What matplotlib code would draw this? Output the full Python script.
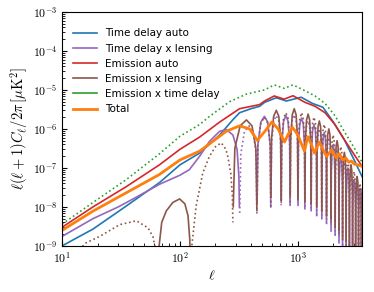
import matplotlib
matplotlib.use("Agg")
import matplotlib.pyplot as plt
import numpy as np
from matplotlib.ticker import FuncFormatter, LogLocator, NullFormatter

plt.rcParams['mathtext.fontset'] = 'cm'

# smooth spectra (ell, l(l+1)C_l/2pi in muK^2)
td_ell = [10, 18.3, 35, 67, 100, 147, 217, 280, 320, 400, 473, 522, 655, 800, 1066, 1330, 1630, 2000, 2500, 3000, 3500]
td_cl = [1.0e-9, 2.7e-9, 1.05e-8, 4.2e-8, 1.2e-7, 2.4e-7, 7e-7, 1.7e-6, 2.6e-6, 3.3e-6, 3.8e-6, 4.8e-6, 6.3e-6,
         5.2e-6, 6.5e-6, 4.5e-6, 3.6e-6, 1.5e-6, 5e-7, 1.6e-7, 6e-8]

em_ell = [10, 18.3, 35, 67, 100, 147, 217, 320, 473, 522, 630, 764, 910, 1150, 1400, 1700, 2060, 2510, 3000, 3500]
em_cl = [3.0e-9, 1.0e-8, 3.3e-8, 1.2e-7, 3.0e-7, 6.2e-7, 1.5e-6, 3.3e-6, 4.2e-6, 5.2e-6, 7.0e-6, 5.8e-6, 7.1e-6,
         4.8e-6, 3.8e-6, 2.6e-6, 1.3e-6, 5e-7, 2.2e-7, 1.1e-7]

emtd_ell = [10, 18.3, 35, 67, 100, 147, 178, 264, 365, 522, 630, 764, 910, 1150, 1400, 1700, 2060, 2510, 3000, 3500]
emtd_cl = [3.6e-9, 1.3e-8, 5e-8, 2.3e-7, 6.5e-7, 1.3e-6, 2.1e-6, 5.0e-6, 7.8e-6, 1.0e-5, 1.35e-5, 1.1e-5, 1.35e-5,
           9.5e-6, 7e-6, 4.5e-6, 2.2e-6, 8e-7, 3.3e-7, 1.4e-7]

tot_ell = [10, 18.3, 35, 67, 100, 147, 190, 247, 320, 390, 453, 530, 600, 680, 770, 840, 900, 1000, 1135, 1215,
           1300, 1380, 1520, 1650, 1750, 1930, 2120, 2250, 2400, 2550, 2700, 2850, 3000, 3200, 3500]
tot_cl = [2.5e-9, 7.8e-9, 2.3e-8, 6.8e-8, 1.6e-7, 2.7e-7, 4.8e-7, 8.7e-7, 1.2e-6, 1.0e-6, 5.1e-7, 9e-7, 1.5e-6,
          1.0e-6, 4.6e-7, 8e-7, 1.1e-6, 7e-7, 2.7e-7, 6.3e-7, 4e-7, 2.4e-7, 4.6e-7, 2.8e-7, 1.95e-7, 2.9e-7,
          1.8e-7, 2.3e-7, 1.6e-7, 1.8e-7, 1.4e-7, 1.5e-7, 1.25e-7, 1.2e-7, 1.1e-7]

# oscillating cross spectra, signed values (negative drawn dotted)
osc_ell = [283, 292, 324, 366, 408, 440, 449,
           451, 458, 485, 520, 555, 582, 589,
           591, 598, 623, 656, 689, 714, 721,
           723, 730, 756, 791, 826, 852, 859,
           861, 869, 896, 931, 966, 993, 1001,
           1003, 1011, 1038, 1075, 1111, 1138, 1146,
           1148, 1156, 1184, 1221, 1258, 1286, 1294,
           1296, 1304, 1333, 1370, 1408, 1436, 1444,
           1446, 1454, 1483, 1520, 1558, 1586, 1594,
           1596, 1604, 1634, 1672, 1711, 1741, 1749,
           1751, 1760, 1790, 1830, 1870, 1900, 1909,
           1911, 1920, 1950, 1990, 2030, 2060, 2069,
           2071, 2080, 2110, 2150, 2190, 2220, 2229,
           2231, 2240, 2271, 2312, 2354, 2385, 2394,
           2396, 2405, 2438, 2480, 2522, 2555, 2564,
           2566, 2575, 2608, 2650, 2692, 2725, 2734,
           2736, 2746, 2779, 2822, 2866, 2900, 2909,
           2911, 2921, 2955, 3000, 3045, 3079, 3089,
           3091, 3101, 3135, 3180, 3225, 3259, 3269,
           3271, 3281, 3315, 3360, 3405, 3439, 3449,
           3451, 3460, 3490, 3530, 3570, 3600]

emlens_low_ell = [14, 16, 20.8, 30.8, 42.7, 53.6, 59, 62,
                  66, 70, 76.6, 87, 99.3, 110, 117, 121, 122,
                  125, 137, 156, 178, 200, 224, 245, 254, 270, 278, 281]
emlens_low_cl = [-8e-10, -1.2e-9, -1.74e-9, -3.5e-9, -4.4e-9, -2.9e-9, -1.7e-9, -8e-10,
                 8e-10, 4e-9, 7.9e-9, 1.3e-8, 1.6e-8, 1.2e-8, 5.9e-9, 1.5e-9, 5e-10,
                 -8e-10, -1.05e-8, -7.4e-8, -2e-7, -3.5e-7, -4.4e-7, -3e-7, -2e-7, -7e-8, -2e-8, -4e-9]
emlens_osc_cl = [1e-8, 3.2e-7, 1.2e-6, 1.7e-6, 1.2e-6, 3.2e-7, 8e-9,
                 -1.2e-8, -3.8e-7, -1.4e-6, -2.0e-6, -1.4e-6, -3.8e-7, -1e-8,
                 1.8e-8, 5.7e-7, 2.1e-6, 3.0e-6, 2.1e-6, 5.7e-7, 1.5e-8,
                 -1.5e-8, -4.9e-7, -1.85e-6, -2.6e-6, -1.85e-6, -4.9e-7, -1.3e-8,
                 2e-8, 6.3e-7, 2.3e-6, 3.3e-6, 2.3e-6, 6.3e-7, 1.7e-8,
                 -1.5e-8, -4.9e-7, -1.85e-6, -2.6e-6, -1.85e-6, -4.9e-7, -1.3e-8,
                 1.4e-8, 4.6e-7, 1.7e-6, 2.4e-6, 1.7e-6, 4.6e-7, 1.2e-8,
                 -1.2e-8, -3.8e-7, -1.4e-6, -2.0e-6, -1.4e-6, -3.8e-7, -1e-8,
                 1e-8, 3e-7, 1.15e-6, 1.6e-6, 1.15e-6, 3e-7, 8e-9,
                 -8e-9, -2.5e-7, -9.2e-7, -1.3e-6, -9.2e-7, -2.5e-7, -6e-9,
                 6e-9, 1.9e-7, 7.1e-7, 1.0e-6, 7.1e-7, 1.9e-7, 5e-9,
                 -4e-9, -1.3e-7, -5e-7, -7e-7, -5e-7, -1.3e-7, -3.5e-9,
                 3e-9, 9.5e-8, 3.6e-7, 5e-7, 3.6e-7, 9.5e-8, 2.5e-9,
                 -2e-9, -6.7e-8, -2.5e-7, -3.5e-7, -2.5e-7, -6.7e-8, -1.8e-9,
                 1.5e-9, 4.8e-8, 1.8e-7, 2.5e-7, 1.8e-7, 4.8e-8, 1.3e-9,
                 -1e-9, -3.2e-8, -1.2e-7, -1.7e-7, -1.2e-7, -3.2e-8, -9e-10,
                 7e-10, 2.3e-8, 8.5e-8, 1.2e-7, 8.5e-8, 2.3e-8, 6e-10,
                 -5e-10, -1.5e-8, -5.7e-8, -8e-8, -5.7e-8, -1.5e-8, -4e-10,
                 4e-10, 1.1e-8, 4.3e-8, 6e-8, 4.3e-8, 1.1e-8, 3e-10,
                 -3e-10, -7.6e-9, -2.8e-8, -4e-8, -2.8e-8, -7.6e-9, -2e-10,
                 2e-10, 5.7e-9, 2.1e-8, 3e-8, 2.1e-8, 1.2e-8]

tdlens_low_ell = [10, 18.3, 30, 43, 67, 100, 120, 147, 178, 217, 247, 281, 305, 316, 319,
                  321, 328, 352, 385, 418, 442, 449]
tdlens_low_cl = [1.75e-9, 5e-9, 1.0e-8, 1.8e-8, 3.8e-8, 6.5e-8, 9e-8, 2e-7, 4.8e-7, 8.7e-7, 9.6e-7, 7e-7, 3e-7, 6e-8, 1e-8,
                 -7e-9, -2.3e-7, -8.5e-7, -1.2e-6, -8.5e-7, -2.3e-7, -6e-9]
tdlens_osc_cl = [1.2e-8, 4e-7, 1.5e-6, 2.1e-6, 1.5e-6, 4e-7, 1e-8,
                 -1.3e-8, -4.2e-7, -1.56e-6, -2.2e-6, -1.56e-6, -4.2e-7, -1.1e-8,
                 1.3e-8, 4.2e-7, 1.56e-6, 2.2e-6, 1.56e-6, 4.2e-7, 1.1e-8,
                 -1.4e-8, -4.4e-7, -1.63e-6, -2.3e-6, -1.63e-6, -4.4e-7, -1.2e-8,
                 1.1e-8, 3.6e-7, 1.35e-6, 1.9e-6, 1.35e-6, 3.6e-7, 9e-9,
                 -1e-8, -3e-7, -1.14e-6, -1.6e-6, -1.14e-6, -3e-7, -8e-9,
                 8e-9, 2.5e-7, 9.2e-7, 1.3e-6, 9.2e-7, 2.5e-7, 6e-9,
                 -6e-9, -1.9e-7, -7.1e-7, -1e-6, -7.1e-7, -1.9e-7, -5e-9,
                 5e-9, 1.5e-7, 5.7e-7, 8e-7, 5.7e-7, 1.5e-7, 4e-9,
                 -3.6e-9, -1.1e-7, -4.3e-7, -6e-7, -4.3e-7, -1.1e-7, -3e-9,
                 2.4e-9, 7.6e-8, 2.8e-7, 4e-7, 2.8e-7, 7.6e-8, 2e-9,
                 -1.8e-9, -5.7e-8, -2.1e-7, -3e-7, -2.1e-7, -5.7e-8, -1.5e-9,
                 1.2e-9, 3.8e-8, 1.4e-7, 2e-7, 1.4e-7, 3.8e-8, 1e-9,
                 -8e-10, -2.7e-8, -1e-7, -1.4e-7, -1e-7, -2.7e-8, -7e-10,
                 6e-10, 1.9e-8, 7.1e-8, 1e-7, 7.1e-8, 1.9e-8, 5e-10,
                 -4e-10, -1.3e-8, -5e-8, -7e-8, -5e-8, -1.3e-8, -3.5e-10,
                 3e-10, 9.5e-9, 3.6e-8, 5e-8, 3.6e-8, 9.5e-9, 2.5e-10,
                 -2.4e-10, -7.6e-9, -2.8e-8, -4e-8, -2.8e-8, -7.6e-9, -2e-10,
                 1.8e-10, 5.7e-9, 2.1e-8, 3e-8, 2.1e-8, 5.7e-9, 1.5e-10,
                 -1.5e-10, -4.8e-9, -1.8e-8, -2.5e-8, -1.8e-8, -1e-8]

emlens_ell = np.array(emlens_low_ell + osc_ell)
emlens_cl = np.array(emlens_low_cl + emlens_osc_cl)
tdlens_ell = np.array(tdlens_low_ell + osc_ell[7:])
tdlens_cl = np.array(tdlens_low_cl + tdlens_osc_cl)


def pos(v):
    return np.where(v > 0, v, np.nan)


def neg(v):
    return np.where(v < 0, -v, np.nan)


fig = plt.figure(figsize=(3.74, 2.92), dpi=100)
ax = fig.add_axes([0.166, 0.158, 0.802, 0.801])

ax.loglog(td_ell, td_cl, color='#1f77b4', lw=1.2, label='Time delay auto')
ax.loglog(tdlens_ell, pos(tdlens_cl), color='#9467bd', lw=1.2, label='Time delay x lensing')
ax.loglog(tdlens_ell, neg(tdlens_cl), color='#9467bd', lw=1.2, ls=':')
ax.loglog(em_ell, em_cl, color='#d62728', lw=1.2, label='Emission auto')
ax.loglog(emlens_ell, pos(emlens_cl), color='#8c564b', lw=1.2, label='Emission x lensing')
ax.loglog(emlens_ell, neg(emlens_cl), color='#8c564b', lw=1.2, ls=':')
ax.loglog(emtd_ell, emtd_cl, color='#2ca02c', lw=1.2, ls=':', label='Emission x time delay')
ax.loglog(tot_ell, tot_cl, color='#ff7f0e', lw=2.0, label='Total')

# the dotted green entry is shown solid in the reference legend
leg = ax.legend(loc='upper left', bbox_to_anchor=(0.023, 0.948), borderaxespad=0,
                frameon=False, fontsize=7.5, handlelength=2.3, labelspacing=0.5)
for h in leg.get_lines():
    h.set_linestyle('-')

ax.set_xlim(10, 3500)
ax.set_ylim(1e-9, 1e-3)
ax.xaxis.set_major_formatter(FuncFormatter(lambda v, p: r'$10^{%d}$' % round(np.log10(v))))
ax.yaxis.set_major_formatter(FuncFormatter(lambda v, p: r'$10^{%d}$' % round(np.log10(v))))
ax.yaxis.set_major_locator(LogLocator(base=10, numticks=10))
ax.yaxis.set_minor_locator(LogLocator(base=10, subs=np.arange(2, 10), numticks=10))
ax.xaxis.set_minor_formatter(NullFormatter())
ax.yaxis.set_minor_formatter(NullFormatter())
ax.tick_params(which='both', direction='in', labelsize=8.5)
ax.tick_params(which='major', length=3.5)
ax.tick_params(which='minor', length=2)

ax.set_xlabel(r'$\ell$', fontsize=10, labelpad=2)
ax.set_ylabel(r'$\ell(\ell+1)C_\ell/2\pi\,[\mu{\rm K}^2]$', fontsize=10.5, labelpad=2)

fig.savefig('out.png', dpi=100)
